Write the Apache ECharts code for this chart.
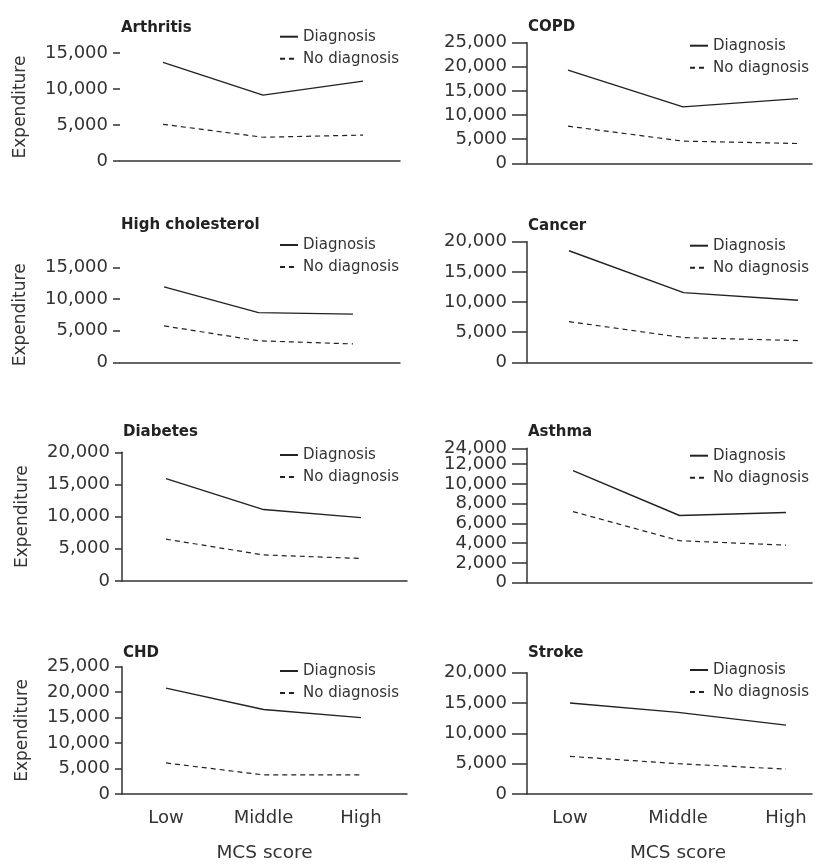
<!DOCTYPE html>
<html>
<head>
<meta charset="utf-8">
<script src="https://cdn.jsdelivr.net/npm/echarts@6/dist/echarts.min.js"></script>
<style>
html, body { margin: 0; padding: 0; background: #fff; }
#chart { width: 817px; height: 864px; }
</style>
</head>
<body>
<div id="chart"></div>
<script>
// categories and series names
var categories = ['Low', 'Middle', 'High'];
var seriesNames = ['Diagnosis', 'No diagnosis'];

// values (expenditure)
var arthritisDiag = [13700, 9150, 11100];
var arthritisNo = [5100, 3300, 3600];
var copdDiag = [19300, 11700, 13400];
var copdNo = [7700, 4600, 4100];
var cholDiag = [11900, 7850, 7600];
var cholNo = [5750, 3400, 2900];
var cancerDiag = [18500, 11550, 10300];
var cancerNo = [6750, 4100, 3600];
var diabetesDiag = [15900, 11100, 9850];
var diabetesNo = [6500, 4050, 3500];
var asthmaDiag = [11350, 6800, 7100];
var asthmaNo = [7200, 4250, 3800];
var chdDiag = [20800, 16600, 15000];
var chdNo = [6100, 3750, 3750];
var strokeDiag = [15000, 13450, 11350];
var strokeNo = [6200, 5000, 4100];

// tick labels
var ticks15k = [0, 5000, 10000, 15000];
var ticks20k = [0, 5000, 10000, 15000, 20000];
var ticks25k = [0, 5000, 10000, 15000, 20000, 25000];
var asthmaTicks = [0, 2000, 4000, 6000, 8000, 10000, 12000];
var asthmaBreakTick = [24000];

var FONT = 'DejaVu Sans';
var INK = '#333';

// panel layout (pixels)
var panels = [
	{ name: 'Arthritis', diag: arthritisDiag, no: arthritisNo, ticks: ticks15k, col: 0, x0: 120, x1: 400, low: 163, high: 363, top: 53, zero: 161, yLine: false, titleY: 26, legY: 36.7 },
	{ name: 'COPD', diag: copdDiag, no: copdNo, ticks: ticks25k, col: 1, x0: 527, x1: 812, low: 568, high: 798, top: 42.7, zero: 163.3, yLine: true, titleY: 25, legY: 45.7 },
	{ name: 'High cholesterol', diag: cholDiag, no: cholNo, ticks: ticks15k, col: 0, x0: 120, x1: 400, low: 164, high: 353, top: 267.3, zero: 362.3, yLine: false, titleY: 223, legY: 245 },
	{ name: 'Cancer', diag: cancerDiag, no: cancerNo, ticks: ticks20k, col: 1, x0: 527, x1: 812, low: 569, high: 798, top: 241.7, zero: 362.3, yLine: true, titleY: 223.3, legY: 245.7 },
	{ name: 'Diabetes', diag: diabetesDiag, no: diabetesNo, ticks: ticks20k, col: 0, x0: 122, x1: 407, low: 166, high: 361, top: 452.3, zero: 581, yLine: true, titleY: 430, legY: 455 },
	{ name: 'Asthma', diag: asthmaDiag, no: asthmaNo, ticks: asthmaTicks, col: 1, x0: 527, x1: 812, low: 573, high: 786, top: 448.3, zero: 582.7, yLine: true, titleY: 430, legY: 455.7, breakTicks: asthmaBreakTick, breakTop: 13600 },
	{ name: 'CHD', diag: chdDiag, no: chdNo, ticks: ticks25k, col: 0, x0: 122, x1: 407, low: 166, high: 361, top: 666.7, zero: 796, yLine: true, titleY: 650.7, legY: 671, bottom: true },
	{ name: 'Stroke', diag: strokeDiag, no: strokeNo, ticks: ticks20k, col: 1, x0: 527, x1: 812, low: 570, high: 786, top: 672.7, zero: 796, yLine: true, titleY: 650.7, legY: 670, bottom: true }
];

function fmt(v) {
	return String(v).replace(/\B(?=(\d{3})+(?!\d))/g, ',');
}

var grid = [], xAxis = [], yAxis = [], extraY = [], series = [], title = [], legend = [];

for (var i = 0; i < panels.length; i++) {
	var p = panels[i];
	var step = (p.high - p.low) / 2;
	var yMax = p.breakTop ? p.breakTop : p.ticks[p.ticks.length - 1];
	var tickLen = p.col === 0 ? 7 : 15;
	var labelMargin = p.col === 0 ? 12 : 20;
	grid.push({ left: p.x0, top: p.top, width: p.x1 - p.x0, height: p.zero - p.top, containLabel: false });

	title.push({
		text: p.name, left: p.x0 + 1, top: p.titleY - 5, padding: 0,
		textStyle: { fontFamily: FONT, fontSize: 15, fontWeight: 'bold', color: '#222' }
	});

	legend.push({
		data: seriesNames, orient: 'vertical', left: p.col === 0 ? 279 : 689, top: p.legY - 8,
		padding: 0, itemGap: 6, itemWidth: 18, itemHeight: 10,
		selectedMode: false,
		itemStyle: { opacity: 0 },
		textStyle: { fontFamily: FONT, fontSize: 15, color: INK, lineHeight: 16 }
	});

	xAxis.push({
		type: 'value', gridIndex: i,
		min: -(p.low - p.x0) / step, max: 2 + (p.x1 - p.high) / step,
		axisLine: { show: true, onZero: false, lineStyle: { color: INK, width: 1.5 } },
		axisTick: { show: false },
		splitLine: { show: false },
		axisLabel: {
			show: !!p.bottom, customValues: [0, 1, 2], margin: 15,
			fontFamily: FONT, fontSize: 18, color: INK,
			formatter: function (v) { return categories[Math.round(v)]; }
		},
		name: p.bottom ? 'MCS score' : '', nameLocation: 'middle', nameGap: 50,
		nameTextStyle: { fontFamily: FONT, fontSize: 18.5, color: INK, padding: p.col === 1 ? [0, 0, 0, 17] : 0 }
	});

	yAxis.push({
		type: 'value', gridIndex: i, min: 0, max: yMax,
		axisLine: { show: p.yLine, onZero: false, lineStyle: { color: INK, width: 1.5 } },
		axisTick: { show: true, length: tickLen, customValues: p.ticks, lineStyle: { color: INK, width: 1.5 } },
		splitLine: { show: false },
		axisLabel: {
			customValues: p.ticks, margin: labelMargin,
			showMaxLabel: true, showMinLabel: true,
			fontFamily: FONT, fontSize: 18, color: INK,
			formatter: fmt
		},
		name: p.col === 0 ? 'Expenditure' : '', nameLocation: 'middle', nameGap: 91,
		nameTextStyle: { fontFamily: FONT, fontSize: 17, color: INK }
	});

	// broken top of the axis: its label sits just above the last regular tick
	if (p.breakTicks) {
		(function (pp) {
			extraY.push({
				type: 'value', gridIndex: i, min: 0, max: pp.breakTop, position: 'left',
				axisLine: { show: false, onZero: false },
				axisTick: { show: true, length: tickLen, customValues: [pp.breakTop], lineStyle: { color: INK, width: 1.5 } },
				splitLine: { show: false },
				axisLabel: {
					customValues: [pp.breakTop], margin: labelMargin, showMaxLabel: true,
					fontFamily: FONT, fontSize: 18, color: INK,
					formatter: function () { return fmt(pp.breakTicks[0]); }
				}
			});
		})(p);
	}

	series.push({
		name: seriesNames[0], type: 'line', xAxisIndex: i, yAxisIndex: i,
		data: p.diag.map(function (v, k) { return [k, v]; }),
		symbol: 'none', silent: true,
		lineStyle: { color: '#222', width: 1.4, type: 'solid' },
		itemStyle: { color: '#222' }
	});
	series.push({
		name: seriesNames[1], type: 'line', xAxisIndex: i, yAxisIndex: i,
		data: p.no.map(function (v, k) { return [k, v]; }),
		symbol: 'none', silent: true,
		lineStyle: { color: '#222', width: 1.2, type: [5, 4] },
		itemStyle: { color: '#222' }
	});
}

var chart = echarts.init(document.getElementById('chart'), null, { renderer: 'canvas' });
chart.setOption({
	backgroundColor: '#fff',
	animation: false,
	title: title,
	legend: legend,
	grid: grid,
	xAxis: xAxis,
	yAxis: yAxis.concat(extraY),
	series: series
});
</script>
</body>
</html>
